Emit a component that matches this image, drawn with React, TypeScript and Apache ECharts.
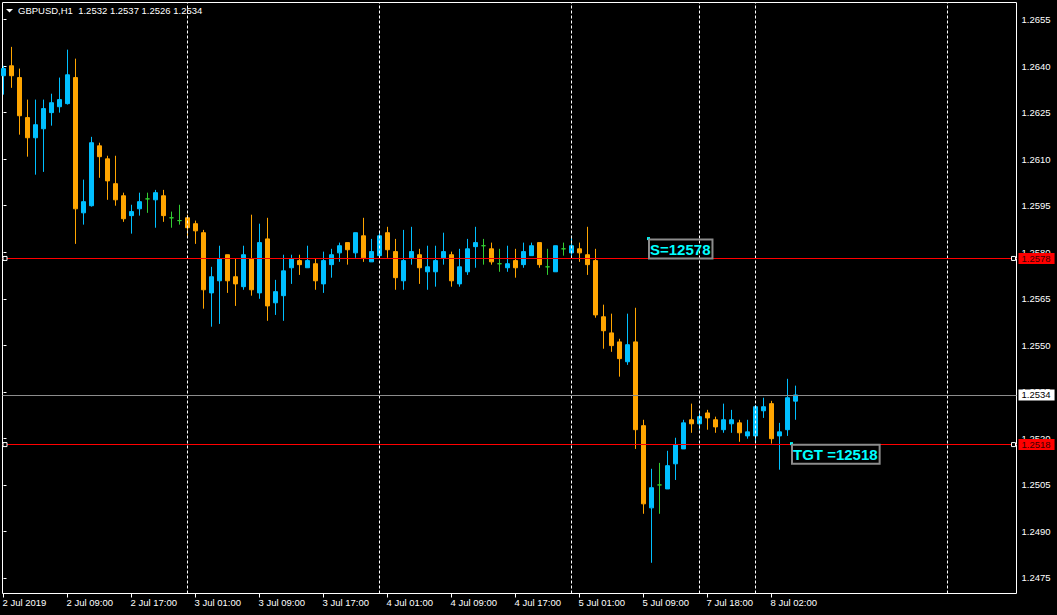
import React, { useEffect, useRef } from "react";
import * as echarts from "echarts";

const SYMBOL = "GBPUSD";
const TIMEFRAME = "H1";

// H1 bars, [open, high, low, close]; bar 0 = 2 Jul 2019 01:00
const ohlc: number[][] = [
  [1.26369, 1.26401, 1.26308, 1.26392],
  [1.26401, 1.26462, 1.2633, 1.26369],
  [1.26363, 1.26392, 1.26179, 1.2624],
  [1.26234, 1.26292, 1.26108, 1.26169],
  [1.26169, 1.26292, 1.2605, 1.26211],
  [1.26198, 1.26292, 1.26059, 1.26263],
  [1.2625, 1.26311, 1.26208, 1.26282],
  [1.26269, 1.26363, 1.2625, 1.26292],
  [1.26279, 1.26453, 1.26276, 1.26372],
  [1.26363, 1.26424, 1.25827, 1.2594],
  [1.25927, 1.26034, 1.25889, 1.25963],
  [1.2595, 1.26172, 1.25947, 1.26153],
  [1.26143, 1.26153, 1.2604, 1.26108],
  [1.26101, 1.26111, 1.25969, 1.2603],
  [1.26021, 1.26111, 1.2595, 1.25969],
  [1.25982, 1.25992, 1.25898, 1.25908],
  [1.25918, 1.25953, 1.2586, 1.25931],
  [1.2594, 1.25992, 1.25918, 1.25963],
  [1.25972, 1.25992, 1.25927, 1.25972],
  [1.25969, 1.26001, 1.25879, 1.25992],
  [1.25982, 1.26001, 1.25898, 1.25918],
  [1.25911, 1.25931, 1.25879, 1.25911],
  [1.25902, 1.25953, 1.25889, 1.25902],
  [1.25911, 1.25921, 1.25847, 1.25879],
  [1.25892, 1.25902, 1.25827, 1.25869],
  [1.25863, 1.25872, 1.25618, 1.25679],
  [1.25669, 1.25753, 1.2556, 1.25721],
  [1.25708, 1.25821, 1.25569, 1.25779],
  [1.25792, 1.25792, 1.25669, 1.25708],
  [1.25721, 1.25779, 1.25627, 1.25698],
  [1.25689, 1.25821, 1.25679, 1.25792],
  [1.25779, 1.25921, 1.2566, 1.25679],
  [1.25669, 1.25892, 1.2565, 1.25831],
  [1.25843, 1.25911, 1.25579, 1.25627],
  [1.25637, 1.25711, 1.25598, 1.25673],
  [1.2566, 1.25792, 1.25579, 1.2574],
  [1.2575, 1.25792, 1.25698, 1.25779],
  [1.25773, 1.25792, 1.25727, 1.2576],
  [1.2575, 1.25821, 1.2575, 1.25773],
  [1.25763, 1.25779, 1.25679, 1.25708],
  [1.25698, 1.25802, 1.25669, 1.25773],
  [1.2576, 1.25811, 1.25718, 1.25792],
  [1.25798, 1.25831, 1.25769, 1.25821],
  [1.25831, 1.25831, 1.2576, 1.25808],
  [1.25798, 1.25863, 1.25782, 1.25863],
  [1.25853, 1.25911, 1.25769, 1.25782],
  [1.25769, 1.25843, 1.25769, 1.25802],
  [1.25789, 1.25866, 1.25782, 1.25853],
  [1.25863, 1.25882, 1.25782, 1.25808],
  [1.25802, 1.25843, 1.25679, 1.25718],
  [1.25708, 1.25872, 1.25679, 1.25773],
  [1.25782, 1.25882, 1.2576, 1.25802],
  [1.25792, 1.25811, 1.25698, 1.2575],
  [1.25737, 1.25821, 1.25679, 1.25753],
  [1.25737, 1.25821, 1.25689, 1.25773],
  [1.25782, 1.25863, 1.2576, 1.25802],
  [1.25792, 1.25802, 1.25689, 1.25708],
  [1.25698, 1.25811, 1.25689, 1.25753],
  [1.25737, 1.25843, 1.25727, 1.25811],
  [1.25818, 1.25882, 1.2575, 1.25831],
  [1.25821, 1.25843, 1.2576, 1.25821],
  [1.25811, 1.25831, 1.2576, 1.25769],
  [1.25763, 1.25811, 1.25737, 1.25763],
  [1.2575, 1.25821, 1.25737, 1.25763],
  [1.25773, 1.25811, 1.25718, 1.2575],
  [1.2576, 1.25831, 1.2575, 1.25802],
  [1.25789, 1.25831, 1.25789, 1.25821],
  [1.25831, 1.25831, 1.2575, 1.2576],
  [1.25753, 1.25811, 1.25727, 1.25753],
  [1.25737, 1.25821, 1.25737, 1.25821],
  [1.25811, 1.25831, 1.25789, 1.25811],
  [1.25798, 1.25853, 1.25785, 1.25821],
  [1.25811, 1.25831, 1.25769, 1.25798],
  [1.25792, 1.25882, 1.25727, 1.2576],
  [1.25773, 1.25811, 1.25589, 1.25598],
  [1.25592, 1.25631, 1.25489, 1.25547],
  [1.2554, 1.25602, 1.25479, 1.25499],
  [1.25511, 1.25521, 1.25399, 1.25457],
  [1.25447, 1.25602, 1.25437, 1.25502],
  [1.25511, 1.25621, 1.25166, 1.25228],
  [1.25241, 1.2526, 1.24957, 1.24989],
  [1.24976, 1.25102, 1.24799, 1.25041],
  [1.2505, 1.25121, 1.24957, 1.2505],
  [1.25037, 1.2516, 1.25037, 1.25112],
  [1.25118, 1.25202, 1.25066, 1.25179],
  [1.25166, 1.2526, 1.25166, 1.2525],
  [1.2526, 1.25312, 1.25218, 1.25247],
  [1.25247, 1.25282, 1.25228, 1.2527],
  [1.25282, 1.25292, 1.25228, 1.25266],
  [1.2526, 1.2527, 1.25218, 1.25237],
  [1.25228, 1.25312, 1.25218, 1.2526],
  [1.25247, 1.25292, 1.25218, 1.2526],
  [1.2525, 1.2526, 1.25189, 1.25218],
  [1.25208, 1.2526, 1.25199, 1.25221],
  [1.25208, 1.25308, 1.25189, 1.25302],
  [1.25289, 1.25331, 1.25266, 1.25302],
  [1.25312, 1.25321, 1.25183, 1.25199],
  [1.25208, 1.2525, 1.25099, 1.25221],
  [1.25228, 1.25392, 1.25208, 1.25331],
  [1.2532, 1.2537, 1.2526, 1.2534],
];

const xTickBars = [0, 8, 16, 24, 32, 40, 48, 56, 64, 72, 80, 88, 96];
const xTickLabels = [
  "2 Jul 2019", "2 Jul 09:00", "2 Jul 17:00", "3 Jul 01:00", "3 Jul 09:00",
  "3 Jul 17:00", "4 Jul 01:00", "4 Jul 09:00", "4 Jul 17:00", "5 Jul 01:00",
  "5 Jul 09:00", "7 Jul 18:00", "8 Jul 02:00",
];
const yTicks = [
  1.2475, 1.249, 1.2505, 1.252, 1.2535, 1.255, 1.2565, 1.258, 1.2595, 1.261,
  1.2625, 1.264, 1.2655,
];
const daySeparatorBars = [23, 47, 71, 87, 94, 118];
const levelPrices = [1.2578, 1.2518];
const bidPrice = 1.2534;
const annotationTexts = ["S=12578", "TGT =12518"];
const annotationBars = [80.625, 98.5];
const annotationPrices = [1.25844, 1.25183];

const X_MIN = -0.125;
const X_MAX = 126.625;
const Y_MIN = 1.247;
const Y_MAX = 1.26605;
const HANDLE_BARS = [0.1875, 126.25];

const FONT = "Liberation Sans";
const BULL = "#00BFFF";
const BEAR = "#FFA500";
const DOJI = "#32CD32";

function buildOption() {
  const data = ohlc.map((b, i) => [i, b[0], b[3], b[2], b[1]]);
  const last = ohlc[ohlc.length - 1];
  const header =
    SYMBOL + "," + TIMEFRAME + "  " +
    [last[0], last[1], last[2], last[3]].map((v) => v.toFixed(4)).join(" ");

  const priceLabel = (bg: string, fg: string) => ({
    show: true,
    position: "end",
    distance: 2,
    backgroundColor: bg,
    color: fg,
    fontFamily: FONT,
    fontSize: 9.5,
    lineHeight: 11,
    padding: [0, 4, 0, 3],
  });

  const markLineData: any[] = [
    ...daySeparatorBars.map((b) => ({
      xAxis: b,
      lineStyle: { color: "#ffffff", width: 1, type: [3, 2] },
      label: { show: false },
    })),
    {
      yAxis: bidPrice,
      lineStyle: { color: "#8c8c8c", width: 1, type: "solid" },
      label: { ...priceLabel("#ffffff", "#000000"), formatter: bidPrice.toFixed(4) },
    },
    ...levelPrices.map((p) => ({
      yAxis: p,
      lineStyle: { color: "#ff0000", width: 1, type: "solid" },
      label: { ...priceLabel("#ff0000", "#3a0000"), formatter: p.toFixed(4) },
    })),
  ];

  const markPointData: any[] = [];
  levelPrices.forEach((p) => {
    HANDLE_BARS.forEach((hb) => {
      markPointData.push({
        coord: [hb, p],
        symbol: "rect",
        symbolSize: 4,
        itemStyle: { color: "#000000", borderColor: "#ffffff", borderWidth: 1 },
        label: { show: false },
      });
    });
  });
  annotationTexts.forEach((t, i) => {
    markPointData.push({
      coord: [annotationBars[i], annotationPrices[i]],
      symbol: "rect",
      symbolSize: 3,
      itemStyle: { color: "#00ffff", borderWidth: 0 },
      label: {
        show: true,
        formatter: t,
        position: [2, 2.5],
        color: "#00ffff",
        fontFamily: FONT,
        fontWeight: "bold",
        fontSize: 15,
        lineHeight: 16,
        padding: [2, 2, 1, 1],
        borderColor: "#8c8c8c",
        borderWidth: 1,
        backgroundColor: "transparent",
      },
    });
  });

  return {
    animation: false,
    backgroundColor: "#000000",
    grid: {
      show: true,
      left: 2.5,
      top: 2.5,
      right: 40.5,
      bottom: 21.5,
      borderColor: "#ffffff",
      borderWidth: 1,
      backgroundColor: "#000000",
      containLabel: false,
      outerBoundsMode: "none",
    },
    xAxis: {
      type: "value",
      min: X_MIN,
      max: X_MAX,
      axisLine: { show: false },
      splitLine: { show: false },
      axisTick: {
        show: true,
        length: 4,
        customValues: xTickBars,
        lineStyle: { color: "#ffffff", width: 1 },
      },
      axisLabel: {
        customValues: xTickBars,
        formatter: (v: number) => {
          const k = xTickBars.indexOf(Math.round(v));
          return k >= 0 ? xTickLabels[k] : "";
        },
        color: "#ffffff",
        fontFamily: FONT,
        fontSize: 9.5,
        align: "left",
        margin: 4,
        padding: [0, 0, 0, -1],
      },
    },
    yAxis: {
      type: "value",
      position: "right",
      min: Y_MIN,
      max: Y_MAX,
      scale: true,
      axisLine: { show: false },
      splitLine: { show: false },
      axisTick: {
        show: true,
        length: 3,
        customValues: yTicks,
        lineStyle: { color: "#ffffff", width: 1 },
      },
      axisLabel: {
        customValues: yTicks,
        formatter: (v: number) => v.toFixed(4),
        color: "#ffffff",
        fontFamily: FONT,
        fontSize: 9.5,
        margin: 5,
      },
    },
    graphic: [
      {
        type: "polygon",
        shape: { points: [[6, 9], [13, 9], [9.5, 12.5]] },
        style: { fill: "#ffffff" },
        silent: true,
      },
      {
        type: "text",
        x: 18,
        y: 10.5,
        silent: true,
        style: {
          text: header,
          fill: "#ffffff",
          fontFamily: FONT,
          fontSize: 9.5,
          verticalAlign: "middle",
          align: "left",
        },
      },
    ],
    series: [
      {
        type: "candlestick",
        data,
        encode: { x: 0, y: [1, 2, 3, 4] },
        barWidth: 4,
        clip: true,
        itemStyle: {
          color: BULL,
          color0: BEAR,
          borderColor: BULL,
          borderColor0: BEAR,
          borderColorDoji: DOJI,
          borderWidth: 1,
        },
        markLine: {
          silent: true,
          precision: 6,
          symbol: ["none", "none"],
          animation: false,
          data: markLineData,
        },
        markPoint: {
          silent: true,
          precision: 6,
          animation: false,
          data: markPointData,
        },
      },
    ],
  };
}

export default function App() {
  const ref = useRef<HTMLDivElement>(null);
  useEffect(() => {
    if (!ref.current) return;
    const chart = echarts.init(ref.current, null, { renderer: "svg" });
    chart.setOption(buildOption() as any);
    return () => chart.dispose();
  }, []);
  return (
    <div
      ref={ref}
      style={{ position: "fixed", left: 0, top: 0, width: 1057, height: 615, background: "#000" }}
    />
  );
}
